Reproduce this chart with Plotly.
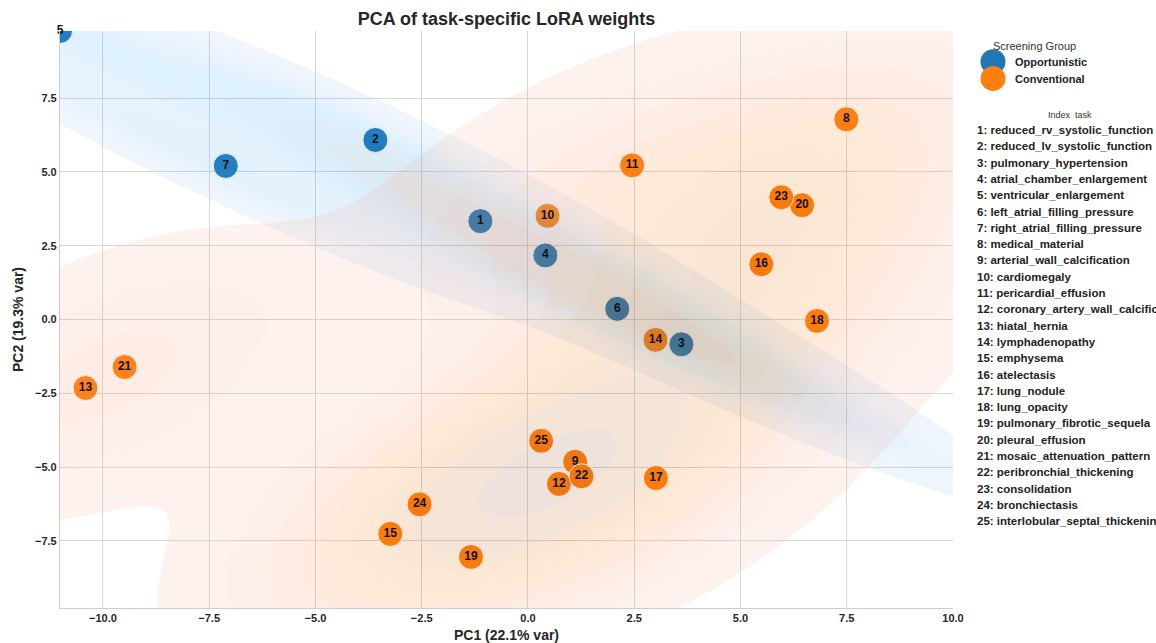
import math
import numpy as np
import plotly.graph_objects as go

# ---------------- data ----------------
task_ids = list(range(1, 26))
task_names = [
    "reduced_rv_systolic_function", "reduced_lv_systolic_function", "pulmonary_hypertension",
    "atrial_chamber_enlargement", "ventricular_enlargement", "left_atrial_filling_pressure",
    "right_atrial_filling_pressure", "medical_material", "arterial_wall_calcification",
    "cardiomegaly", "pericardial_effusion", "coronary_artery_wall_calcification",
    "hiatal_hernia", "lymphadenopathy", "emphysema", "atelectasis", "lung_nodule",
    "lung_opacity", "pulmonary_fibrotic_sequela", "pleural_effusion",
    "mosaic_attenuation_pattern", "peribronchial_thickening", "consolidation",
    "bronchiectasis", "interlobular_septal_thickening",
]
groups = ["Opportunistic"] * 7 + ["Conventional"] * 18
pc1 = [-1.12, -3.59, 3.61, 0.41, -11.01, 2.10, -7.11, 7.49, 1.11, 0.46, 2.45, 0.73, -10.41,
       3.00, -3.24, 5.49, 3.01, 6.80, -1.34, 6.45, -9.49, 1.26, 5.96, -2.55, 0.31]
pc2 = [3.33, 6.08, -0.84, 2.17, 9.77, 0.36, 5.20, 6.78, -4.82, 3.51, 5.22, -5.57, -2.32,
       -0.69, -7.26, 1.87, -5.37, -0.05, -8.04, 3.87, -1.61, -5.31, 4.14, -6.26, -4.11]
group_order = ["Opportunistic", "Conventional"]
group_colors = {"Opportunistic": "#1f77b4", "Conventional": "#ff7f0e"}
x_ticks = [-10.0, -7.5, -5.0, -2.5, 0.0, 2.5, 5.0, 7.5, 10.0]
y_ticks = [-7.5, -5.0, -2.5, 0.0, 2.5, 5.0, 7.5]
x_range = [-11.01, 10.0]
y_range = [-9.77, 9.77]

FONT = "Liberation Sans, Arial, sans-serif"
KDE_ALPHA = 0.16

# ---------------- husl (as in seaborn) ----------------
_m = [[3.2406, -1.5372, -0.4986], [-0.9689, 1.8758, 0.0415], [0.0557, -0.2040, 1.0570]]
_m_inv = [[0.4124, 0.3576, 0.1805], [0.2126, 0.7152, 0.0722], [0.0193, 0.1192, 0.9505]]
_refY, _refU, _refV = 1.0, 0.19784, 0.46834
_lab_e, _lab_k = 0.008856, 903.3


def _max_chroma(L, H):
    hrad = math.radians(H)
    sinH, cosH = math.sin(hrad), math.cos(hrad)
    sub1 = (L + 16) ** 3 / 1560896.0
    sub2 = sub1 if sub1 > _lab_e else L / _lab_k
    result = float("inf")
    for m1, m2, m3 in _m:
        top = (0.99915 * m1 + 1.05122 * m2 + 1.14460 * m3) * sub2
        rbottom = 0.86330 * m3 - 0.17266 * m2
        lbottom = 0.12949 * m3 - 0.38848 * m1
        bottom = (rbottom * sinH + lbottom * cosH) * sub2
        for t in (0.0, 1.0):
            C = L * (top - 1.05122 * t) / (bottom + 0.17266 * sinH * t)
            if 0.0 < C < result:
                result = C
    return result


def _to_lin(c):
    return ((c + 0.055) / 1.055) ** 2.4 if c > 0.04045 else c / 12.92


def _from_lin(c):
    return 12.92 * c if c <= 0.0031308 else 1.055 * c ** (1 / 2.4) - 0.055


def rgb_to_husl(r, g, b):
    rl = [_to_lin(c) for c in (r, g, b)]
    X, Y, Z = [sum(_m_inv[i][j] * rl[j] for j in range(3)) for i in range(3)]
    den = X + 15 * Y + 3 * Z
    varU, varV = 4 * X / den, 9 * Y / den
    yr = Y / _refY
    L = 116 * yr ** (1 / 3) - 16 if yr > _lab_e else _lab_k * yr
    U, V = 13 * L * (varU - _refU), 13 * L * (varV - _refV)
    C = math.hypot(U, V)
    H = math.degrees(math.atan2(V, U)) % 360
    return H, C / _max_chroma(L, H) * 100, L


def husl_to_rgb(H, S, L):
    C = _max_chroma(L, H) / 100 * S
    U, V = math.cos(math.radians(H)) * C, math.sin(math.radians(H)) * C
    Y = _refY * ((L + 16) / 116) ** 3 if L > 8 else _refY * L / _lab_k
    varU, varV = U / (13 * L) + _refU, V / (13 * L) + _refV
    X = 9 * Y * varU / (4 * varV)
    Z = (9 * Y - 15 * varV * Y - varV * X) / (3 * varV)
    out = []
    for i in range(3):
        v = _from_lin(_m[i][0] * X + _m[i][1] * Y + _m[i][2] * Z)
        out.append(min(max(v, 0.0), 1.0))
    return out


def seaborn_cmap(hex_color):
    r, g, b = [int(hex_color[i:i + 2], 16) / 255 for i in (1, 3, 5)]
    h, s, _ = rgb_to_husl(r, g, b)
    xx = np.linspace(-1, 1, int(1.15 * 256))[:256]
    ramp = [husl_to_rgb(h, s * math.cos(xx[j]), 35 + 45 * j / 255) for j in range(256)]
    ramp = ramp[::-1]

    def cm(t):
        idx = min(max(int(t * 256), 0), 255)
        return ramp[idx]
    return cm


# ---------------- KDE (scipy-like, scott bandwidth, seaborn support) ----------------
def kde_grid(xs, ys, weight, gridsize=200, cut=3):
    data = np.vstack([xs, ys])
    n = data.shape[1]
    factor = n ** (-1.0 / 6)
    cov = np.cov(data) * factor ** 2
    bw = np.sqrt(np.diag(cov))
    gx = np.linspace(xs.min() - cut * bw[0], xs.max() + cut * bw[0], gridsize)
    gy = np.linspace(ys.min() - cut * bw[1], ys.max() + cut * bw[1], gridsize)
    XX, YY = np.meshgrid(gx, gy)
    inv = np.linalg.inv(cov)
    dx = XX[..., None] - xs
    dy = YY[..., None] - ys
    q = inv[0, 0] * dx * dx + 2 * inv[0, 1] * dx * dy + inv[1, 1] * dy * dy
    dens = np.exp(-0.5 * q).sum(-1) / (n * 2 * np.pi * np.sqrt(np.linalg.det(cov)))
    return gx, gy, dens * weight


x_all = np.array(pc1)
y_all = np.array(pc2)
g_all = np.array(groups)
grids = {}
for g in group_order:
    m = g_all == g
    grids[g] = kde_grid(x_all[m], y_all[m], m.sum() / len(g_all))

iso = np.linspace(0.05, 1, 10)
allv = np.concatenate([grids[g][2].ravel() for g in group_order])
sv = np.sort(allv)[::-1]
normed = np.cumsum(sv) / allv.sum()
levels = np.take(sv, np.searchsorted(normed, 1 - iso), mode="clip")
mids = 0.5 * (levels[:-1] + levels[1:])
tvals = (mids - levels[0]) / (levels[-1] - levels[0])

# ---------------- figure ----------------
W, H = 1156, 643
ML, MR, MT, MB = 60, 203, 31, 35
PW, PH = W - ML - MR, H - MT - MB


def px(x):
    return (x - ML) / PW


def py(y):
    return (H - MB - y) / PH


fig = go.Figure()

# markers on the main axes
for g in group_order:
    idx = [i for i, gg in enumerate(groups) if gg == g]
    fig.add_trace(go.Scatter(
        x=[pc1[i] for i in idx], y=[pc2[i] for i in idx], mode="markers",
        marker=dict(size=25, color=group_colors[g], line=dict(color="white", width=1)),
        name=g, showlegend=False, hoverinfo="skip",
    ))

# KDE fills on overlay axes (drawn above markers, as in reference)
for g in group_order:
    gx, gy, d = grids[g]
    zt = np.where(d < levels[0], d / levels[0] - 1.0,
                  np.interp(d, levels, np.arange(len(levels), dtype=float)))
    cm = seaborn_cmap(group_colors[g])
    cs = [[0.0, "rgba(255,255,255,0)"]]
    for k, t in enumerate(tvals):
        r, gg, b = cm(t)
        cs.append([(k + 1) / 10, f"rgb({r*255:.0f},{gg*255:.0f},{b*255:.0f})"])
    cs.append([1.0, cs[-1][1]])
    fig.add_trace(go.Contour(
        x=gx, y=gy, z=zt, xaxis="x2", yaxis="y2",
        autocontour=False, opacity=KDE_ALPHA,
        contours=dict(start=0, end=9, size=1, coloring="fill", showlines=False),
        colorscale=cs, showscale=False, line=dict(width=0, smoothing=1),
        hoverinfo="skip",
    ))

# point labels on top
fig.add_trace(go.Scatter(
    x=pc1, y=pc2, mode="text", text=[str(t) for t in task_ids],
    textposition="middle center", xaxis="x2", yaxis="y2",
    textfont=dict(family=FONT, size=12, color="#111111", weight="bold"),
    cliponaxis=False, showlegend=False, hoverinfo="skip",
))

axis_common = dict(
    showgrid=True, gridcolor="#d6d6d6", gridwidth=1, zeroline=False,
    showline=True, linecolor="#cccccc", linewidth=1.2, mirror=False, ticks="",
    tickfont=dict(family=FONT, size=11, color="#262626", weight="bold"),
    tickformat=".1f", automargin=False,
)
fig.update_layout(
    width=W, height=H,
    margin=dict(l=ML, r=MR, t=MT, b=MB, pad=0, autoexpand=False),
    paper_bgcolor="white", plot_bgcolor="white",
    showlegend=False,
    title=dict(text="PCA of task-specific LoRA weights", x=0.5, xref="paper", xanchor="center",
               y=1 - 19 / H, yref="container", yanchor="middle",
               font=dict(family=FONT, size=18, color="#262626", weight="bold")),
    xaxis=dict(range=x_range, tickvals=x_ticks, **axis_common,
               title=dict(text="PC1 (22.1% var)", standoff=6,
                          font=dict(family=FONT, size=14, color="#262626", weight="bold"))),
    yaxis=dict(range=y_range, tickvals=y_ticks, **axis_common,
               title=dict(text="PC2 (19.3% var)", standoff=8,
                          font=dict(family=FONT, size=14, color="#262626", weight="bold"))),
    xaxis2=dict(overlaying="x", range=x_range, visible=False),
    yaxis2=dict(overlaying="y", range=y_range, visible=False),
)

# ---------------- custom legend ----------------
shapes = []
legend_rows = [(group_order[0], 61.7), (group_order[1], 78.5)]
for g, yy in legend_rows:
    shapes.append(dict(type="circle", xref="paper", yref="paper", layer="above",
                       xsizemode="pixel", ysizemode="pixel",
                       xanchor=px(993), yanchor=py(yy), x0=-12.5, x1=12.5, y0=-12.5, y1=12.5,
                       fillcolor=group_colors[g], line=dict(width=0)))
fig.update_layout(shapes=shapes)

ann = [dict(text="Screening Group", x=px(991), y=py(46), xanchor="left", yanchor="middle",
            font=dict(family=FONT, size=11, color="#333333"))]
for g, yy in legend_rows:
    ann.append(dict(text=g, x=px(1013), y=py(yy + 0.5), xanchor="left", yanchor="middle",
                    font=dict(family=FONT, size=11, color="#222222", weight="bold")))
ann.append(dict(text="Index  task", x=px(1070), y=py(115), xanchor="center", yanchor="middle",
                font=dict(family=FONT, size=9, color="#333333")))
for i, (tid, name) in enumerate(zip(task_ids, task_names)):
    ann.append(dict(text=f"{tid}: {name}", x=px(975), y=py(130 + 16.3 * i),
                    xanchor="left", yanchor="middle",
                    font=dict(family=FONT, size=11.5, color="#222222", weight="bold")))
for a in ann:
    a.update(xref="paper", yref="paper", showarrow=False)
fig.update_layout(annotations=ann)

fig.write_html("out.html")
